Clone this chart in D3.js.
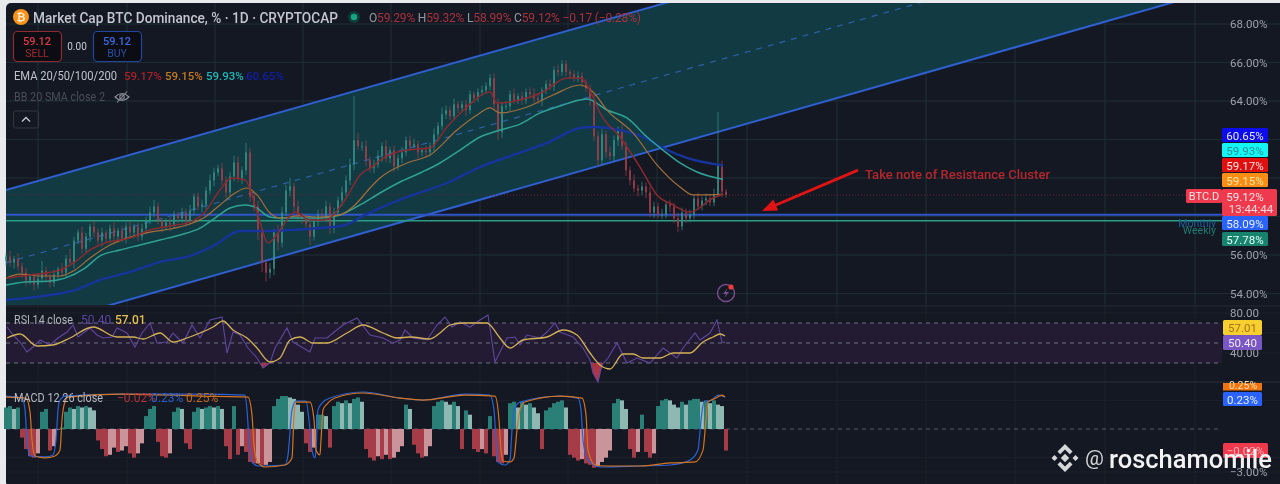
<!DOCTYPE html>
<html><head><meta charset="utf-8">
<script src="https://cdn.jsdelivr.net/npm/d3@7/dist/d3.min.js"></script>
<style>
html,body{margin:0;padding:0;background:#e9eaec;overflow:hidden}
svg{display:block;font-family:Roboto,"Open Sans",sans-serif;filter:blur(.45px)}
</style></head><body><div id="chart"></div>
<script>
// ---------- candles: one bar per 4 time units ----------
const closes=[
55.92,55.6,55.8,55.4,55.08,54.67,54.88,54.46,54.77,55.19,
54.88,54.56,54.98,55.29,55.08,55.81,55.6,56.75,57.17,56.33,
56.96,57.48,57.17,56.75,57.17,56.85,57.38,56.96,57.27,56.85,
57.48,57.17,57.48,56.96,57.38,57.79,58.21,58.52,57.79,57.48,
57.69,57.58,58.10,57.9,58.21,57.79,58.31,59.04,58.52,58.63,
59.35,59.88,60.29,60.5,59.88,59.25,60.08,60.81,59.98,60.4,
61.33,59.04,58.52,57.17,55.6,55.08,55.29,57.17,56.65,58.21,
59.35,59.56,58.52,58,57.9,57.58,56.96,57.79,58.1,58,
58.52,57.38,58.21,58.83,59.25,59.88,60.71,61.96,61.65,61.65,
60.92,60.5,60.71,61.13,61.65,61.02,61.44,60.6,61.02,61.33,
61.96,61.65,61.75,61.33,61.44,61.33,61.65,62.27,62.69,63.31,
63.52,63.21,63.83,63.63,63.83,63.52,64.35,64.15,64.46,64.56,
64.77,65.19,63.83,62.38,63.73,63.73,64.35,64.04,64.25,64.04,
64.46,64.35,64.15,64.04,64.56,64.88,64.77,65.6,65.5,65.92,
65.5,65.4,65.19,65.29,64.98,64.67,64.04,62.17,60.92,62.27,
61.33,61.13,61.96,62.48,61.65,60.4,59.88,59.46,59.35,59.56,
59.25,58.21,58.52,58.1,58.1,58.63,58.52,57.9,57.48,58.21,
57.9,58.1,58.94,58.52,58.83,58.94,58.73,59.15,60.7,59.3,
59.12];
const wickUp=[
.2,.3,.15,.3,.2,.25,.15,.2,.3,.5,
.2,.15,.25,.1,.3,.2,.5,.2,.15,.3,
.2,.15,.3,.2,.25,.15,.2,.3,.15,.25,
.2,.3,.15,.2,.25,.2,.3,.35,.2,.15,
.2,.3,.2,.15,.25,.2,.3,.15,.2,.25,
.2,.3,.25,.2,.3,.2,.25,.35,.3,.2,
.5,.25,.2,.3,.2,.15,.3,.2,.4,.3,
.3,.45,.2,.3,.2,.15,.3,.2,.25,.3,
.3,.2,.25,.2,.3,.25,.3,2.3,.4,.25,
.3,.2,.25,.3,.2,.3,.2,.25,.2,.3,
.2,.25,.3,.2,.15,.25,.2,.3,.2,.35,
.25,.2,.3,.15,.2,.25,.2,.15,.2,.25,
.2,.2,.25,.3,.2,.25,.2,.3,.15,.25,
.2,.25,.3,.2,.15,.2,.25,.2,.3,.2,
.2,.15,.2,.25,.2,.15,.2,.3,.25,.3,
.2,.3,.25,.2,.3,.25,.2,.3,.2,.25,
.2,.3,.25,.2,.3,.2,.25,.2,.3,.25,
.2,.25,.2,.3,.2,.25,.2,.3,2.73,.2,
.12];
const wickDown=[
.25,.2,.3,.2,.25,.3,.2,.3,.2,.2,
.3,.25,.2,.3,.2,.25,.2,.3,.2,.25,
.2,.3,.25,.2,.3,.2,.25,.2,.3,.2,
.25,.2,.3,.25,.2,.3,.2,.25,.2,.3,
.2,.35,.2,.25,.2,.3,.2,.25,.2,.3,
.25,.2,.3,.2,.25,.3,.2,.25,.2,.3,
.25,.3,.25,.4,.5,.45,.3,.35,.4,.25,
.2,.3,.25,.2,.3,.25,.45,.2,.3,.25,
.2,.3,.25,.2,.3,.2,.25,.3,.2,.25,
.3,.2,.25,.2,.3,.2,.25,.3,.2,.25,
.2,.25,.2,.3,.2,.25,.2,.25,.3,.2,
.25,.2,.2,.25,.2,.3,.2,.25,.2,.2,
.2,.2,.25,.4,.3,.2,.25,.2,.2,.25,
.2,.2,.25,.2,.3,.2,.2,.25,.2,.2,
.2,.25,.2,.2,.25,.2,.3,.25,.3,.25,
.3,.2,.25,.3,.2,.3,.25,.2,.3,.25,
.3,.25,.3,.2,.25,.2,.3,.25,.3,.2,
.25,.2,.25,.2,.2,.25,.2,.2,.15,.3,
.15];
const firstOpen=55.7;
// ---------- moving averages: time, value ----------
const ema20T=[0,24,54,69,84,99,124,144,164,184,199,214,226,239,252,262,274,289,304,319,339,354,369,374,401,424,441,461,484,491,514,537,561,574,587,594,614,634,651,667,684,707,717];
const ema20V=[54.8,54.96,55.22,55.64,56.26,56.62,56.88,57.3,57.51,57.71,58.23,59.38,60,59.9,58.08,56.62,57.3,58.23,57.82,57.82,58.86,60.16,60.68,60.93,61.45,61.56,62.65,63.69,64.47,63.9,64.05,64.47,65.19,65.19,64.21,63.38,62.13,60.57,59.12,58.6,58.23,58.96,59.17];
const ema50T=[0,14,34,54,69,84,104,124,144,164,184,199,214,229,241,251,264,274,294,314,334,349,364,374,401,424,451,471,484,494,521,547,574,587,601,627,651,674,687,717];
const ema50V=[54.8,55.01,54.91,54.91,55.22,55.84,56.52,56.93,57.19,57.35,57.61,57.97,58.6,59.22,59.48,59.12,58.18,57.92,58.03,57.97,58.08,58.6,59.48,60,60.78,61.19,62.49,63.27,63.64,63.38,63.69,64.31,64.83,64.47,63.53,62.34,60.68,59.53,59.12,59.15];
const ema100T=[0,19,44,59,79,94,114,134,154,174,194,209,224,239,249,264,274,294,314,334,354,374,394,414,434,454,474,494,514,534,554,574,581,601,621,641,657,674,691,717];
const ema100V=[54.44,54.6,54.65,54.8,55.32,55.95,56.26,56.52,56.78,57.04,57.4,57.92,58.44,58.6,58.49,57.97,57.92,57.92,57.92,58.08,58.6,59.22,59.79,60.26,60.78,61.45,62.13,62.49,62.8,63.38,63.74,64.05,64.1,63.53,63.12,62.13,61.45,60.78,60.31,59.93];
const ema200T=[0,44,69,94,124,154,184,209,234,254,284,314,339,359,374,407,441,474,507,541,574,587,614,637,657,681,717];
const ema200V=[53.66,53.92,54.18,54.7,55.12,55.64,55.95,56.52,57.25,57.25,57.3,57.4,57.56,58.08,58.44,59.12,59.74,60.57,61.19,61.82,62.6,62.65,62.49,62.13,61.56,61.04,60.65];
// ---------- channel and levels ----------
const channelT=[0,1170];
const channelTop=[59.38,76.61];
const channelMid=[55.6,72.88];
const channelBottom=[51.86,69.17];
const levelBlue=58.09, levelGreen=57.78, lastPrice=59.12;
const arrowT=[852,756], arrowV=[60.41,58.29];
// ---------- RSI ----------
const rsiT=[1,7,14,21,27,34,44,52,61,67,72,84,91,97,106,111,121,129,136,144,151,161,167,177,186,194,204,216,221,227,234,242,251,257,264,269,281,287,304,309,321,327,337,351,364,377,387,394,399,407,421,431,439,446,454,464,474,482,486,489,494,501,509,514,521,534,541,549,554,567,577,584,587,592,596,602,611,621,631,644,657,671,677,689,694,704,711,716,719];
const rsiV=[66,58,51,41,46,53,48,55,61,68,56,65,58,55,56,65,60,46,60,70,50,51,60,50,68,55,73,76,40,61,58,45,35,25,30,45,65,51,41,55,55,60,68,75,58,55,50,53,63,55,53,68,76,66,71,66,73,78,51,31,41,55,56,48,58,55,61,70,61,56,45,33,20,11,28,35,50,30,35,30,45,35,45,60,53,60,73,51,50.4];
const rsiMaT=[1,14,31,47,64,87,111,127,137,154,167,181,194,207,217,227,241,251,264,274,284,294,307,321,341,357,377,391,404,424,434,444,457,481,484,494,504,517,541,557,571,584,594,604,617,627,637,654,667,684,697,707,714,719];
const rsiMaV=[55,59,47,48,55,66,56,56,54,60,51,55,60,66,72,63,55,45,31,35,53,56,50,50,60,68,60,55,56,54,60,68,70,70,68,55,45,53,56,63,58,40,28,24,39,39,35,35,40,40,51,56,59,57.01];
const rsiBands=[70,50,30];
// ---------- MACD ----------
const histV=[
1.5,1.6,1.4,1.5,-.6,-1.4,-1.9,-2.0,-1.7,1.2,
1.4,-1.5,-1.2,-.05,.1,1.2,1.5,1.4,1.6,1.5,
1.6,1.5,1.3,-.8,-1.4,-1.9,-1.8,-1.3,-1.6,-1.5,
-1.2,-1.7,-2.0,-1.7,-1.0,.9,1.4,1.6,-.9,-1.9,
-2.0,-1.7,1.2,1.5,1.4,-1.0,-1.4,1.2,1.5,1.4,
1.5,1.6,1.5,1.6,1.4,-1.2,-2.1,1.6,-1.8,-1.2,
-1.6,-2.3,-2.4,-2.4,-2.5,-2.5,-2.3,1.6,2.1,2.3,
2.3,2.2,2.1,1.7,1.2,-1.0,-1.6,-1.3,1.0,1.0,
.9,-1.3,1.6,1.9,1.8,2.0,1.8,2.1,2.2,1.9,
-1.4,-2.0,-2.2,-1.9,-2.1,-1.8,-2.1,-2.0,-1.6,-1.2,
1.7,1.4,-1.1,-1.7,-2.0,-1.9,-1.2,1.6,1.9,2.0,
1.9,1.7,1.9,1.6,-1.4,1.3,1.0,-1.4,-1.6,-1.4,
-1.7,.9,-1.9,-2.3,-2.4,-1.8,1.8,1.9,1.5,1.9,
1.7,1.8,1.5,1.1,-1.4,1.3,1.5,1.8,1.9,2.0,
1.5,-1.8,-2.0,-2.2,-2.1,-2.4,-2.5,-2.7,-2.6,-2.3,
-2.0,-1.5,1.8,2.1,2.0,1.4,-1.4,-2.0,-1.6,1.0,
-1.6,-2.0,-1.7,1.6,2.0,2.1,2.0,1.7,1.5,1.9,
1.7,2.0,2.1,2.1,1.9,2.0,1.8,2.0,1.7,1.6,
-1.5];
const macdT=[0,16,19,21,24,39,47,50,52,54,59,114,194,239,241,243,246,252,279,282,286,290,300,303,306,309,310,312,316,324,357,394,417,459,484,488,490,492,499,504,506,508,514,554,572,575,577,582,594,634,664,684,692,695,698,706,712,719];
const macdV=[2.3,2.16,1.33,-.77,-1.88,-1.95,-1.81,-.77,1.33,2.02,2.3,2.44,2.44,2.37,1.33,-.77,-2.3,-2.58,-2.51,-1.81,1.33,1.95,1.95,.63,-1.47,-2.02,-1.47,1.33,1.81,2.16,2.58,2.16,2.02,2.44,2.37,1.33,-.77,-2.3,-2.51,-2.16,-.07,1.33,1.88,2.3,2.16,1.33,-.77,-2.16,-2.65,-2.58,-2.51,-2.16,-1.47,.63,1.88,2.02,2.37,2.23];
const signalT=[0,20,24,26,29,39,49,54,56,58,62,114,194,242,246,248,252,259,279,286,288,290,304,308,310,314,315,317,321,329,357,394,417,459,489,493,495,497,504,508,511,514,519,554,576,580,582,589,599,634,664,689,697,700,702,710,716,719];
const signalV=[2.23,2.16,1.19,-.77,-1.88,-2.02,-1.88,-1.47,.63,1.67,2.23,2.44,2.3,2.23,.98,-1.12,-2.37,-2.65,-2.51,-2.02,.98,1.88,1.88,.63,-1.47,-1.81,-.77,1.33,1.74,2.16,2.51,2.16,2.02,2.37,2.3,.63,-1.47,-2.23,-2.3,-2.02,-.07,1.33,1.88,2.3,2.16,.98,-1.47,-2.51,-2.58,-2.58,-2.37,-2.3,-1.47,.63,1.88,2.16,2.37,2.23];
// ---------- axis labels ----------
const priceTicks=[68,66,64,56,54], priceGrid=[68,66,64,62,60,58,56,54];
const rsiTicks=[80,40], macdTicks=[-3];
const gridT=[32,121,209,297,385,474,562,651,741,831,920,1009,1099,1189];

const W=1280,H=484,left=6,top0=3,axisX=1222;
const BG="#141823";
const svg=d3.select("#chart").append("svg").attr("width",W).attr("height",H);
const defs=svg.append("defs");
defs.append("clipPath").attr("id","main").append("rect").attr("x",left).attr("y",top0).attr("width",W-left).attr("height",302);
defs.append("clipPath").attr("id","rsiLow").append("rect").attr("x",left).attr("y",363).attr("width",W-left).attr("height",19);
const grad=defs.append("linearGradient").attr("id","rsiGrad").attr("x1",0).attr("x2",0).attr("y1",0).attr("y2",1);
grad.append("stop").attr("offset","0").attr("stop-color","#6a2a3a");
grad.append("stop").attr("offset","1").attr("stop-color","#b83848");

svg.append("rect").attr("width",W).attr("height",H).attr("fill","#e9eaec");
svg.append("rect").attr("x",left).attr("y",top0).attr("width",W-left+10).attr("height",H).attr("rx",5).attr("fill",BG);

const x=d3.scaleLinear().domain([0,720]).range([6,726]);
const y=d3.scaleLinear().domain([68,54]).range([24,293.5]);
const yR=d3.scaleLinear().domain([80,40]).range([313,353]);
const yM=d3.scaleLinear().domain([-3,3]).range([472,386]);
const zip=(t,v)=>t.map((d,i)=>[d,v[i]]);

// grid
const grid=svg.append("g").attr("stroke","#1c2029").attr("stroke-width",1);
grid.selectAll("line.v").data(gridT).join("line").attr("x1",d=>x(d)).attr("x2",d=>x(d)).attr("y1",top0).attr("y2",H);
grid.selectAll("line.h").data(priceGrid).join("line").attr("x1",left).attr("x2",W).attr("y1",d=>y(d)).attr("y2",d=>y(d));
[...rsiTicks,60].forEach(v=>grid.append("line").attr("x1",left).attr("x2",W).attr("y1",yR(v)).attr("y2",yR(v)));
[2,-2,-3].forEach(v=>grid.append("line").attr("x1",left).attr("x2",W).attr("y1",yM(v)).attr("y2",yM(v)));

// channel
const main=svg.append("g").attr("clip-path","url(#main)");
const band=d3.area().x((d,i)=>x(channelT[i])).y0((d,i)=>y(channelBottom[i])).y1((d,i)=>y(channelTop[i]));
main.append("path").attr("d",band(channelT)).attr("fill","#113a42");
grid.clone(true).attr("stroke","#1d4a52").attr("opacity",.3).attr("clip-path","url(#main)").raise();
main.raise();
const ln=d3.line().x(d=>x(d[0])).y(d=>y(d[1]));
[[channelTop,false],[channelBottom,false],[channelMid,true]].forEach(([v,dash])=>{
  main.append("path").attr("d",ln(zip(channelT,v))).attr("fill","none")
   .attr("stroke",dash?"#2f5fa8":"#2f5fd0").attr("stroke-width",dash?1.2:2)
   .attr("stroke-dasharray",dash?"6 6":null);
});
// price level lines
const lev=svg.append("g");
lev.append("line").attr("x1",left).attr("x2",axisX).attr("y1",y(lastPrice)).attr("y2",y(lastPrice)).attr("stroke","#5e2833").attr("stroke-dasharray","1 2");
lev.append("line").attr("x1",left).attr("x2",axisX).attr("y1",y(levelBlue)).attr("y2",y(levelBlue)).attr("stroke","#2f55c8").attr("stroke-width",2);
lev.append("line").attr("x1",left).attr("x2",axisX).attr("y1",y(levelGreen)).attr("y2",y(levelGreen)).attr("stroke","#2a9d85").attr("stroke-width",1.4);

// candles
const bars=closes.map((c,i)=>{const o=i?closes[i-1]:firstOpen;return{t:i*4,o,c,h:Math.max(o,c)+wickUp[i],l:Math.min(o,c)-wickDown[i]};});
const cg=svg.append("g");
const col=d=>d.c>=d.o?"#378e84":"#a03e4a";
cg.selectAll("line").data(bars).join("line").attr("x1",d=>x(d.t)).attr("x2",d=>x(d.t)).attr("y1",d=>y(d.h)).attr("y2",d=>y(d.l)).attr("stroke",col).attr("stroke-width",.9).attr("opacity",.8);
cg.selectAll("rect").data(bars).join("rect").attr("x",d=>x(d.t)-.9).attr("width",1.8).attr("y",d=>y(Math.max(d.o,d.c))).attr("height",d=>Math.max(1,Math.abs(y(d.o)-y(d.c)))).attr("fill",col).attr("opacity",.9);

// moving averages
const curve=d3.line().x(d=>x(d[0])).y(d=>y(d[1])).curve(d3.curveMonotoneX);
[[ema200T,ema200V,"#17339c",2.4],[ema100T,ema100V,"#2fa294",1.5],[ema50T,ema50V,"#a46e3a",1.2],[ema20T,ema20V,"#8a2a30",1.5]].forEach(([t,v,c,w])=>{
  svg.append("path").attr("d",curve(zip(t,v))).attr("fill","none").attr("stroke",c).attr("stroke-width",w);
});

// annotation arrow
const ax0=x(arrowT[0]),ay0=y(arrowV[0]),ax1=x(arrowT[1]),ay1=y(arrowV[1]);
const ang=Math.atan2(ay1-ay0,ax1-ax0);
const px=(d,o)=>[ax1-d*Math.cos(ang)-o*Math.sin(ang),ay1-d*Math.sin(ang)+o*Math.cos(ang)];
svg.append("line").attr("x1",ax0).attr("y1",ay0).attr("x2",ax1-Math.cos(ang)*10).attr("y2",ay1-Math.sin(ang)*10).attr("stroke","#e01414").attr("stroke-width",2.8);
svg.append("polygon").attr("points",[px(0,0),px(15,6),px(15,-6)].map(p=>p.join(",")).join(" ")).attr("fill","#e01414");
const T=(g,xx,yy,s,c,fs,opt={})=>{const e=g.append("text").attr("x",xx).attr("y",yy).attr("fill",c).attr("font-size",fs).attr("dominant-baseline","central").text(s);
 if(opt.anchor)e.attr("text-anchor",opt.anchor);if(opt.w)e.attr("font-weight",opt.w);if(opt.len){e.attr("textLength",opt.len).attr("lengthAdjust","spacingAndGlyphs");}return e;};
T(svg,865,174,"Take note of Resistance Cluster","#b3262c",13,{len:185,w:500});

// alert icon
const ic=svg.append("g").attr("transform","translate(726,293)");
ic.append("circle").attr("r",8.5).attr("fill","none").attr("stroke","#7a4a8a").attr("stroke-width",1.5);
ic.append("path").attr("d","M1.5,-5 L-3,1 L0,1 L-1.5,5 L3,-1 L0,-1Z").attr("fill","#7a4a8a");
ic.append("circle").attr("cx",5).attr("cy",-6).attr("r",2.6).attr("fill","#f23a3a");

// panes
const sep=svg.append("g").attr("stroke","#242833");
sep.append("line").attr("x1",left).attr("x2",W).attr("y1",306).attr("y2",306);
sep.append("line").attr("x1",left).attr("x2",W).attr("y1",382).attr("y2",382).attr("stroke-width",1.5);

// RSI pane
svg.append("rect").attr("x",left).attr("y",yR(70)).attr("width",axisX-left).attr("height",yR(30)-yR(70)).attr("fill","#251d36").attr("opacity",.8);
const rg=svg.append("g");
rg.selectAll("line").data(rsiBands).join("line").attr("x1",left).attr("x2",axisX).attr("y1",d=>yR(d)).attr("y2",d=>yR(d)).attr("stroke","#6f7282").attr("stroke-dasharray","4 4");
const rl=d3.line().x(d=>x(d[0])).y(d=>yR(d[1]));
rg.append("path").attr("clip-path","url(#rsiLow)").attr("d",d3.area().x(d=>x(d[0])).y0(yR(30)).y1(d=>yR(d[1]))(zip(rsiT,rsiV))).attr("fill","url(#rsiGrad)");
rg.append("path").attr("d",rl(zip(rsiT,rsiV))).attr("fill","none").attr("stroke","#5f479f").attr("stroke-width",1.1);
rg.append("path").attr("d",d3.line().x(d=>x(d[0])).y(d=>yR(d[1])).curve(d3.curveMonotoneX)(zip(rsiMaT,rsiMaV))).attr("fill","none").attr("stroke","#d3b155").attr("stroke-width",1.3);

// MACD pane
const mg=svg.append("g");
mg.append("line").attr("x1",left).attr("x2",axisX).attr("y1",yM(0)).attr("y2",yM(0)).attr("stroke","#555967").attr("stroke-dasharray","4 4");
const histCol=(v,i)=>{const p=i?histV[i-1]:v;return v>=0?(v>=p?"#2a7f76":"#8fb8b3"):(v<p?"#a63c47":"#c9959b");};
mg.selectAll("rect").data(histV).join("rect").attr("x",(d,i)=>x(i*4)-2).attr("width",4)
 .attr("y",d=>yM(Math.max(0,d))).attr("height",d=>Math.abs(yM(d)-yM(0))).attr("fill",histCol);
const ml=d3.line().x(d=>x(d[0])).y(d=>yM(d[1])).curve(d3.curveMonotoneX);
mg.append("path").attr("d",ml(zip(macdT,macdV))).attr("fill","none").attr("stroke","#2962d8").attr("stroke-width",1.2);
mg.append("path").attr("d",ml(zip(signalT,signalV))).attr("fill","none").attr("stroke","#d8741e").attr("stroke-width",1.2);

// right axes
const fmtP=d=>d3.format(".2f")(d)+"%";
const axisStyle=g=>{g.select(".domain").remove();g.selectAll("line").remove();g.selectAll("text").attr("x",0).attr("text-anchor","start").attr("fill","#9ea1aa").attr("font-size",11.5).attr("font-family","Roboto,sans-serif");};
svg.append("g").attr("transform","translate(1230,0)").call(d3.axisRight(y).tickValues(priceTicks).tickFormat(fmtP)).call(axisStyle);
svg.append("g").attr("transform","translate(1230,0)").call(d3.axisRight(yR).tickValues(rsiTicks).tickFormat(d3.format(".2f"))).call(axisStyle);
svg.append("g").attr("transform","translate(1230,0)").call(d3.axisRight(yM).tickValues(macdTicks).tickFormat(d=>"\u2212"+d3.format(".2f")(-d)+"%")).call(axisStyle);

// right labels
const L=(y0,y1,x0,x1,bg,s,c,fs=11.5)=>{svg.append("rect").attr("x",x0).attr("y",y0).attr("width",x1-x0).attr("height",y1-y0).attr("rx",1.5).attr("fill",bg);
 if(s)T(svg,(x0+x1)/2,(y0+y1)/2+.5,s,c,fs,{anchor:"middle"});};
L(128,142,1222,1268,"#0c0cee","60.65%","#e8e8ff");
L(143,157,1222,1268,"#12f6f6","59.93%","#2f8f90");
L(158,172,1222,1268,"#e20f0f","59.17%","#ffe8e8");
L(173,187,1222,1268,"#fb8c14","59.15%","#ffe9a8");
svg.append("rect").attr("x",1222).attr("y",189).attr("width",55).attr("height",27).attr("rx",1.5).attr("fill","#ef3a4e");
T(svg,1245,196.5,"59.12%","#ffe6e6",11.5,{anchor:"middle"});
T(svg,1251,209,"13:44:44","#ffd6d8",11.5,{anchor:"middle"});
L(189,203,1186,1222,"#ef3a4e","BTC.D","#ffe6e6",11);
L(216,230,1222,1268,"#2962ff","58.09%","#eaf0ff");
L(232,246,1222,1268,"#17836f","57.78%","#e4fff8");
T(svg,1216,223,"Monthly","#1f5f9c",10.5,{anchor:"end"});
T(svg,1216,230.5,"Weekly","#1d7a70",10.5,{anchor:"end"});
L(320,335,1223,1262,"#f7d02f","57.01","#a8701a");
L(335,350,1223,1262,"#7a57c4","50.40","#efe9ff");
const clipO=svg.append("g");
clipO.append("rect").attr("x",1223).attr("y",383).attr("width",39).attr("height",7.5).attr("fill","#f2740e");
T(clipO,1243,385,"0.25%","#ffe0b0",10.5,{anchor:"middle"});
L(392,406,1223,1262,"#2962ff","0.23%","#eaf0ff");
L(443,458,1223,1268,"#ef3a4e","\u22120.02%","#ffb0b8");

// legend text
const leg=svg.append("g");
leg.append("circle").attr("cx",21).attr("cy",17).attr("r",8).attr("fill","#f7931a");
T(leg,21,17.5,"\u20BF","#ffeacc",11,{anchor:"middle",w:700});
T(leg,33,17.5,"Market Cap BTC Dominance, % \u00B7 1D \u00B7 CRYPTOCAP","#c3c6cf",14,{len:305,w:500});
leg.append("circle").attr("cx",354).attr("cy",17).attr("r",6).attr("fill","#0f3b38");
leg.append("circle").attr("cx",354).attr("cy",17).attr("r",3.2).attr("fill","#15a583");
const oh=T(leg,369,17.5,"","#a8abb4",12);
[["O","#9598a1"],["59.29%","#a8323c"],[" H","#9598a1"],["59.32%","#a8323c"],[" L","#9598a1"],["58.99%","#a8323c"],[" C","#9598a1"],["59.12%","#a8323c"],[" \u22120.17 (\u22120.28%)","#a8323c"]].forEach(([s,c])=>{oh.append("tspan").attr("fill",c).attr("xml:space","preserve").text(s);});
oh.attr("textLength",272).attr("lengthAdjust","spacing");
leg.append("rect").attr("x",13.5).attr("y",31.5).attr("width",48).attr("height",30).attr("rx",4).attr("fill","#0c0d12").attr("stroke","#8f2a30").attr("stroke-width",1.2);
T(leg,37,41,"59.12","#e03a46",11,{anchor:"middle",w:500});
T(leg,37,53,"SELL","#a32a30",10.5,{anchor:"middle"});
T(leg,77,46,"0.00","#c9cbd2",10,{anchor:"middle"});
leg.append("rect").attr("x",93.5).attr("y",31.5).attr("width",48).attr("height",30).attr("rx",4).attr("fill","#0c0d12").attr("stroke","#23459e").attr("stroke-width",1.2);
T(leg,117,41,"59.12","#3a6ae8",11,{anchor:"middle",w:500});
T(leg,117,53,"BUY","#2a4ea8",10.5,{anchor:"middle"});
T(leg,14,76,"EMA 20/50/100/200","#c0c3ca",12,{len:103});
T(leg,124,76,"59.17%","#a8202a",11.5,{w:500});
T(leg,165,76,"59.15%","#c47a22",11.5,{w:500});
T(leg,206,76,"59.93%","#18b8b8",11.5,{w:500});
T(leg,246,76,"60.65%","#101ea8",11.5,{w:500});
T(leg,14,97,"BB 20 SMA close 2","#4a4d59",12,{len:91});
const eye=leg.append("g").attr("transform","translate(122,97)").attr("fill","none").attr("stroke","#8f9199").attr("stroke-width",1.1);
eye.append("path").attr("d","M-7,0 Q0,-7 7,0 Q0,7 -7,0Z");
eye.append("circle").attr("r",2.2);
eye.append("line").attr("x1",-5).attr("y1",5.5).attr("x2",5).attr("y2",-5.5);
leg.append("rect").attr("x",13.5).attr("y",111).attr("width",25).attr("height",17).attr("rx",2).attr("fill","none").attr("stroke","#33363f");
leg.append("path").attr("d","M22,121.5 L26,117.5 L30,121.5").attr("fill","none").attr("stroke","#c8cad0").attr("stroke-width",1.3);
T(leg,14,320,"RSI 14 close","#b0b3bb",12,{len:59});
T(leg,81,320,"50.40","#5c45a0",12);
T(leg,115,320,"57.01","#e6bf4e",12,{w:500});
T(leg,14,398,"MACD 12 26 close","#b8bbc3",12,{len:89});
T(leg,117,398,"\u22120.02%","#b0303a",12);
T(leg,151,398,"0.23%","#2a5ecc",12);
T(leg,186,398,"0.25%","#c06a1c",12);

// watermark
const wm=svg.append("g").attr("transform","translate(1065,458)").attr("fill","#d6d7da");
const rh=(cx,cy,r)=>`M${cx},${cy-r}L${cx+r},${cy}L${cx},${cy+r}L${cx-r},${cy}Z`;
wm.append("path").attr("d",rh(0,0,4.2)+rh(-10.5,0,3)+rh(10.5,0,3));
wm.append("path").attr("d","M0,-14 L7.5,-6.5 L4.8,-3.8 L0,-8.6 L-4.8,-3.8 L-7.5,-6.5Z M0,14 L7.5,6.5 L4.8,3.8 L0,8.6 L-4.8,3.8 L-7.5,6.5Z");
T(svg,1085,458,"@","#d2d3d6",21);
T(svg,1109,459,"roschamomile","#f2f2f2",25,{w:500,len:163});
</script></body></html>
